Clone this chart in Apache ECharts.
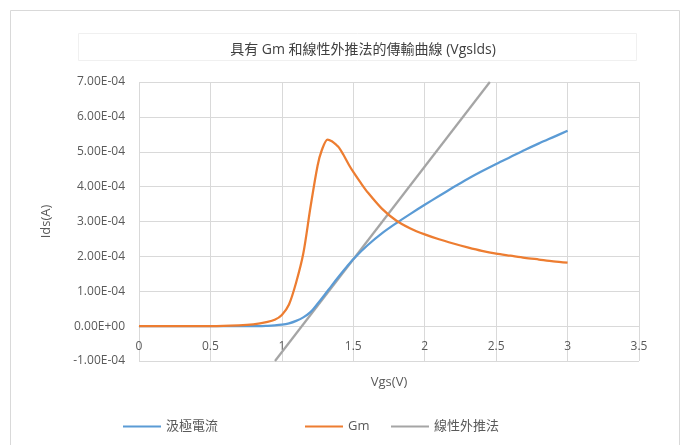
<!DOCTYPE html>
<html>
<head>
<meta charset="utf-8">
<script src="https://cdn.jsdelivr.net/npm/echarts@6/dist/echarts.min.js"></script>
<style>
  html, body { margin: 0; padding: 0; background: #fff; }
  #chart { width: 690px; height: 445px; }
</style>
</head>
<body>
<div id="chart"></div>
<script>
// Gate voltage samples (V) and drain current / transconductance readings
const vgsIds = [0, 0.5, 0.8, 0.9, 0.95, 1.0, 1.05, 1.1, 1.15, 1.2, 1.25, 1.3, 1.35, 1.4, 1.45, 1.5, 1.6, 1.7, 1.8, 1.9, 2.0, 2.1, 2.2, 2.3, 2.4, 2.5, 2.6, 2.7, 2.8, 2.9, 3.0];
const idsValues = [0, 0, 0, 0.01e-4, 0.02e-4, 0.04e-4, 0.08e-4, 0.15e-4, 0.25e-4, 0.40e-4, 0.64e-4, 0.90e-4, 1.17e-4, 1.43e-4, 1.68e-4, 1.92e-4, 2.32e-4, 2.66e-4, 2.95e-4, 3.22e-4, 3.48e-4, 3.73e-4, 3.98e-4, 4.22e-4, 4.44e-4, 4.65e-4, 4.85e-4, 5.05e-4, 5.24e-4, 5.42e-4, 5.60e-4];

const vgsGm = [0, 0.5, 0.7, 0.8, 0.9, 0.95, 1.0, 1.05, 1.1, 1.15, 1.2, 1.25, 1.28, 1.32, 1.35, 1.38, 1.4, 1.43, 1.47, 1.5, 1.55, 1.6, 1.7, 1.8, 1.9, 2.0, 2.1, 2.2, 2.3, 2.4, 2.5, 2.6, 2.7, 2.8, 2.9, 3.0];
const gmValues = [0, 0, 0.02e-4, 0.05e-4, 0.12e-4, 0.18e-4, 0.32e-4, 0.62e-4, 1.25e-4, 2.08e-4, 3.40e-4, 4.60e-4, 5.05e-4, 5.35e-4, 5.30e-4, 5.20e-4, 5.12e-4, 4.92e-4, 4.62e-4, 4.42e-4, 4.12e-4, 3.84e-4, 3.37e-4, 3.03e-4, 2.80e-4, 2.63e-4, 2.49e-4, 2.37e-4, 2.26e-4, 2.16e-4, 2.08e-4, 2.02e-4, 1.96e-4, 1.91e-4, 1.86e-4, 1.82e-4];

// Linear extrapolation line (end points)
const vgsLinear = [0.952, 2.456];
const linearValues = [-1.0e-4, 7.0e-4];

const seriesNames = ['汲極電流', 'Gm', '線性外推法'];
const seriesColors = ['#5B9BD5', '#ED7D31', '#A5A5A5'];

const titleText = '具有 Gm 和線性外推法的傳輸曲線 (Vgslds)';
const xAxisName = 'Vgs(V)';
const yAxisName = 'Ids(A)';

const FONT = '"Open Sans", "Noto Sans CJK TC", sans-serif';

function pairs(xs, ys) {
  return xs.map((x, i) => [x, ys[i]]);
}

function sciLabel(v) {
  if (Math.abs(v) < 1e-12) return '0.00E+00';
  let e = Math.floor(Math.log10(Math.abs(v)) + 1e-9);
  let m = v / Math.pow(10, e);
  const sign = e < 0 ? '-' : '+';
  const ea = Math.abs(e);
  return m.toFixed(2) + 'E' + sign + (ea < 10 ? '0' + ea : '' + ea);
}

const chart = echarts.init(document.getElementById('chart'), null, { renderer: 'canvas' });

const legendLefts = [118, 300, 386];

chart.setOption({
  animation: false,
  backgroundColor: '#ffffff',
  textStyle: { fontFamily: FONT },
  graphic: [
    {
      type: 'rect',
      shape: { x: 10.5, y: 10.5, width: 669, height: 440 },
      style: { fill: 'none', stroke: '#d9d9d9', lineWidth: 1 },
      silent: true
    },
    {
      type: 'rect',
      shape: { x: 78.5, y: 33.5, width: 558, height: 27 },
      style: { fill: 'none', stroke: '#f0f0f0', lineWidth: 1 },
      silent: true
    }
  ],
  title: {
    text: titleText,
    left: 358,
    textAlign: 'center',
    top: 38,
    textStyle: { fontFamily: FONT, fontSize: 14, fontWeight: 'normal', color: '#404040' }
  },
  legend: seriesNames.map((name, i) => ({
    data: [name],
    left: legendLefts[i],
    top: 415,
    icon: 'rect',
    itemWidth: 38,
    itemHeight: 2,
    itemGap: 0,
    textStyle: { fontFamily: FONT, fontSize: 13, color: '#595959' }
  })),
  grid: { left: 139, right: 51, top: 82, bottom: 84, containLabel: false },
  xAxis: {
    type: 'value',
    min: 0,
    max: 3.5,
    interval: 0.5,
    offset: -35,
    name: xAxisName,
    nameLocation: 'middle',
    nameGap: 50,
    nameTextStyle: { fontFamily: FONT, fontSize: 13, color: '#595959' },
    axisLine: { show: true, onZero: false, lineStyle: { color: '#d9d9d9', width: 1 } },
    axisTick: { show: false },
    axisLabel: { fontFamily: FONT, fontSize: 12, color: '#595959', margin: 15 },
    splitLine: { show: true, lineStyle: { color: '#d9d9d9', width: 1 } }
  },
  yAxis: {
    type: 'value',
    min: -1e-4,
    max: 7e-4,
    interval: 1e-4,
    name: yAxisName,
    nameLocation: 'middle',
    nameGap: 86,
    nameRotate: 90,
    nameTextStyle: { fontFamily: FONT, fontSize: 13, color: '#595959' },
    axisLine: { show: false },
    axisTick: { show: false },
    axisLabel: { fontFamily: FONT, fontSize: 12, color: '#595959', margin: 14, formatter: sciLabel },
    splitLine: { show: true, lineStyle: { color: '#d9d9d9', width: 1 } }
  },
  series: [
    {
      name: seriesNames[0],
      type: 'line',
      data: pairs(vgsIds, idsValues),
      smooth: 0.3,
      showSymbol: false,
      lineStyle: { color: seriesColors[0], width: 2.25 },
      itemStyle: { color: seriesColors[0] },
      z: 3
    },
    {
      name: seriesNames[1],
      type: 'line',
      data: pairs(vgsGm, gmValues),
      smooth: 0.3,
      showSymbol: false,
      lineStyle: { color: seriesColors[1], width: 2.25 },
      itemStyle: { color: seriesColors[1] },
      z: 4
    },
    {
      name: seriesNames[2],
      type: 'line',
      data: pairs(vgsLinear, linearValues),
      showSymbol: false,
      lineStyle: { color: seriesColors[2], width: 2.25 },
      itemStyle: { color: seriesColors[2] },
      z: 2
    }
  ]
});
</script>
</body>
</html>
